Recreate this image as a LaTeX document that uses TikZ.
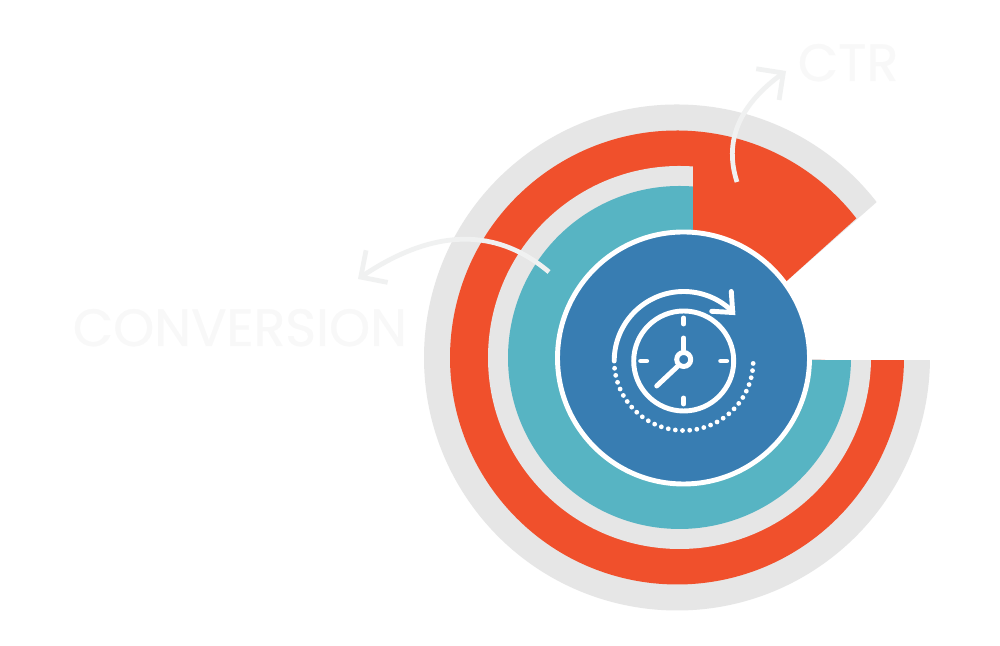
\documentclass[tikz,border=0pt]{standalone}
\usepackage{fontspec}
\newfontfamily\labelfont{Poppins}[FakeBold=0.5]
\usetikzlibrary{arrows.meta}
\usetikzlibrary{positioning}
\definecolor{ringgray}{HTML}{E6E6E6}
\definecolor{ringorange}{HTML}{F0502C}
\definecolor{ringteal}{HTML}{57B4C3}
\definecolor{hubblue}{HTML}{387DB2}
\definecolor{callout}{HTML}{F0F1F1}
\definecolor{labelgray}{HTML}{F8F8F8}
\tikzset{
  callarrow/.style={draw=callout,line width=1.35pt,-{Straight Barb[length=5.5pt,width=11pt,line width=1.35pt]}},
  biglabel/.style={text=labelgray,inner sep=0pt,font=\labelfont\fontsize{14.9pt}{15pt}\selectfont},
  icon/.style={draw=white,line width=1.4pt,line cap=round,line join=miter}
}
\begin{document}
\begin{tikzpicture}[x=0.01cm,y=0.01cm]

  \pgfmathsetmacro{\clockX}{683.7}
  \pgfmathsetmacro{\clockY}{285}

  \useasboundingbox (0,0) rectangle (1000,646);
  \fill[white] (0,0) rectangle (1000,646);

  % rings
  \fill[ringgray] (780,359) -- ([shift={(677,288.5)}]37.9:253) arc[start angle=37.9,end angle=359.4,radius=253] -- (812,286) -- cycle;
  \fill[ringorange] (780,359) -- ([shift={(677,288.5)}]37.8:227) arc[start angle=37.8,end angle=359.35,radius=227] -- (812,286) -- cycle;
  \fill[ringgray] (693,288) -- ([shift={(679.5,288.5)}]86:191.5) arc[start angle=86,end angle=359.2,radius=191.5] -- (812,286) -- cycle;
  \fill[ringteal] (693,288) -- ([shift={(679.5,288.5)}]85.5:171.5) arc[start angle=85.5,end angle=359.15,radius=171.5] -- (812,286) -- cycle;
  \draw[fill=hubblue,draw=white,line width=1.4pt] (683.5,288) circle (126);

  % clock
  \draw[icon] (\clockX,\clockY) circle (50);
  \draw[icon] (\clockX,286.5) circle (7);
  \draw[icon] (\clockX,296) -- (\clockX,308);
  \draw[icon] (677.5,279.5) -- (656.7,260);
  \foreach \ang in {0,90,...,270}
  {
    \draw[icon] ([shift={(\clockX,\clockY)}]\ang:37) -- ([shift={(\clockX,\clockY)}]\ang:43);
  }
  \draw[icon] ([shift={(\clockX,\clockY)}]180:69.5) arc[start angle=180,end angle=45,radius=69.5];
  \draw[icon] (731.3,354.5) -- (732.7,333.5) -- (711.7,334.7);
  \foreach \n in {0,...,29}
  {
    \fill[white] ([shift={(\clockX,\clockY)}]{186+\n*5.93}:69.5) circle (2.4);
  }

  % labels and arrows
  \node[biglabel,anchor=base west] (conversion) at (72,300) {CONVERSION};
  \node[biglabel,anchor=base west] (ctr) at (797,565) {CTR};

  \coordinate (convstart) at (549,374);
  \coordinate (convend) at (358,367);
  \coordinate (ctrstart) at (737,464);
  \coordinate (ctrend) at (786,575);
  \draw[callarrow] (convstart) .. controls (490,424) and (425,412) .. (convend);
  \draw[callarrow] (ctrstart) .. controls (722,510) and (745,545) .. (ctrend);

\end{tikzpicture}
\end{document}
